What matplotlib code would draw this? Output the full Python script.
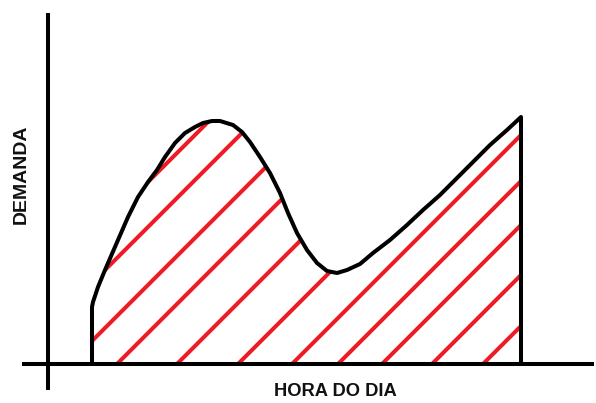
import matplotlib
matplotlib.use("Agg")
import matplotlib.pyplot as plt
from matplotlib.patches import Polygon

# Conceptual demand curve (arbitrary units): hour of day vs demand
hora = [44, 44, 45, 50, 57, 70, 80, 90, 100, 109, 117, 127, 137, 147, 155,
        164, 172, 185, 194, 202, 212, 222, 232, 240, 249, 259, 269, 279, 289,
        299, 312, 325, 342, 359, 375, 392, 409, 425, 442, 459, 473, 473]
demanda = [0, 57, 62, 77, 94, 124, 147, 167, 182, 194, 207, 221, 231, 237, 241,
           243, 243, 239, 232, 222, 207, 191, 171, 151, 131, 114, 101, 93, 91,
           94, 100, 111, 124, 139, 154, 169, 186, 202, 219, 234, 247, 0]

# Hatch lines (45 deg) given by where they cross the baseline
hatch_offsets = [-82, -37, 21, 69, 129, 190, 244, 290, 334, 384, 435]

x_label = "HORA DO DIA"
y_label = "DEMANDA"

fig = plt.figure(figsize=(5.96, 4.03), dpi=100)
ax = fig.add_axes([0, 0, 1, 1])
ax.set_xlim(-48, 548)
ax.set_ylim(-39, 364)
ax.axis("off")

lw = 2.9
red = "#ed1c24"

region = Polygon(list(zip(hora, demanda)), closed=True, facecolor="none",
                 edgecolor="none")
ax.add_patch(region)

for c in hatch_offsets:
    ln, = ax.plot([c, c + 400], [0, 400], color=red, lw=lw,
                  solid_capstyle="butt", zorder=2)
    ln.set_clip_path(region)

# demand curve
ax.plot(hora, demanda, color="black", lw=lw, solid_joinstyle="round",
        solid_capstyle="butt", zorder=3)

# axes
ax.plot([0, 0], [-26, 351], color="black", lw=lw, solid_capstyle="butt", zorder=4)
ax.plot([-26, 546], [0, 0], color="black", lw=lw, solid_capstyle="butt", zorder=4)

ax.text(-27, 190, y_label, rotation=90, ha="center", va="center",
        fontsize=14, fontweight="bold", color="#111111",
        family="Liberation Sans")
ax.text(287, -28, x_label, ha="center", va="center",
        fontsize=13.2, fontweight="bold", color="#111111",
        family="Liberation Sans")

fig.savefig("out.png", dpi=100)
